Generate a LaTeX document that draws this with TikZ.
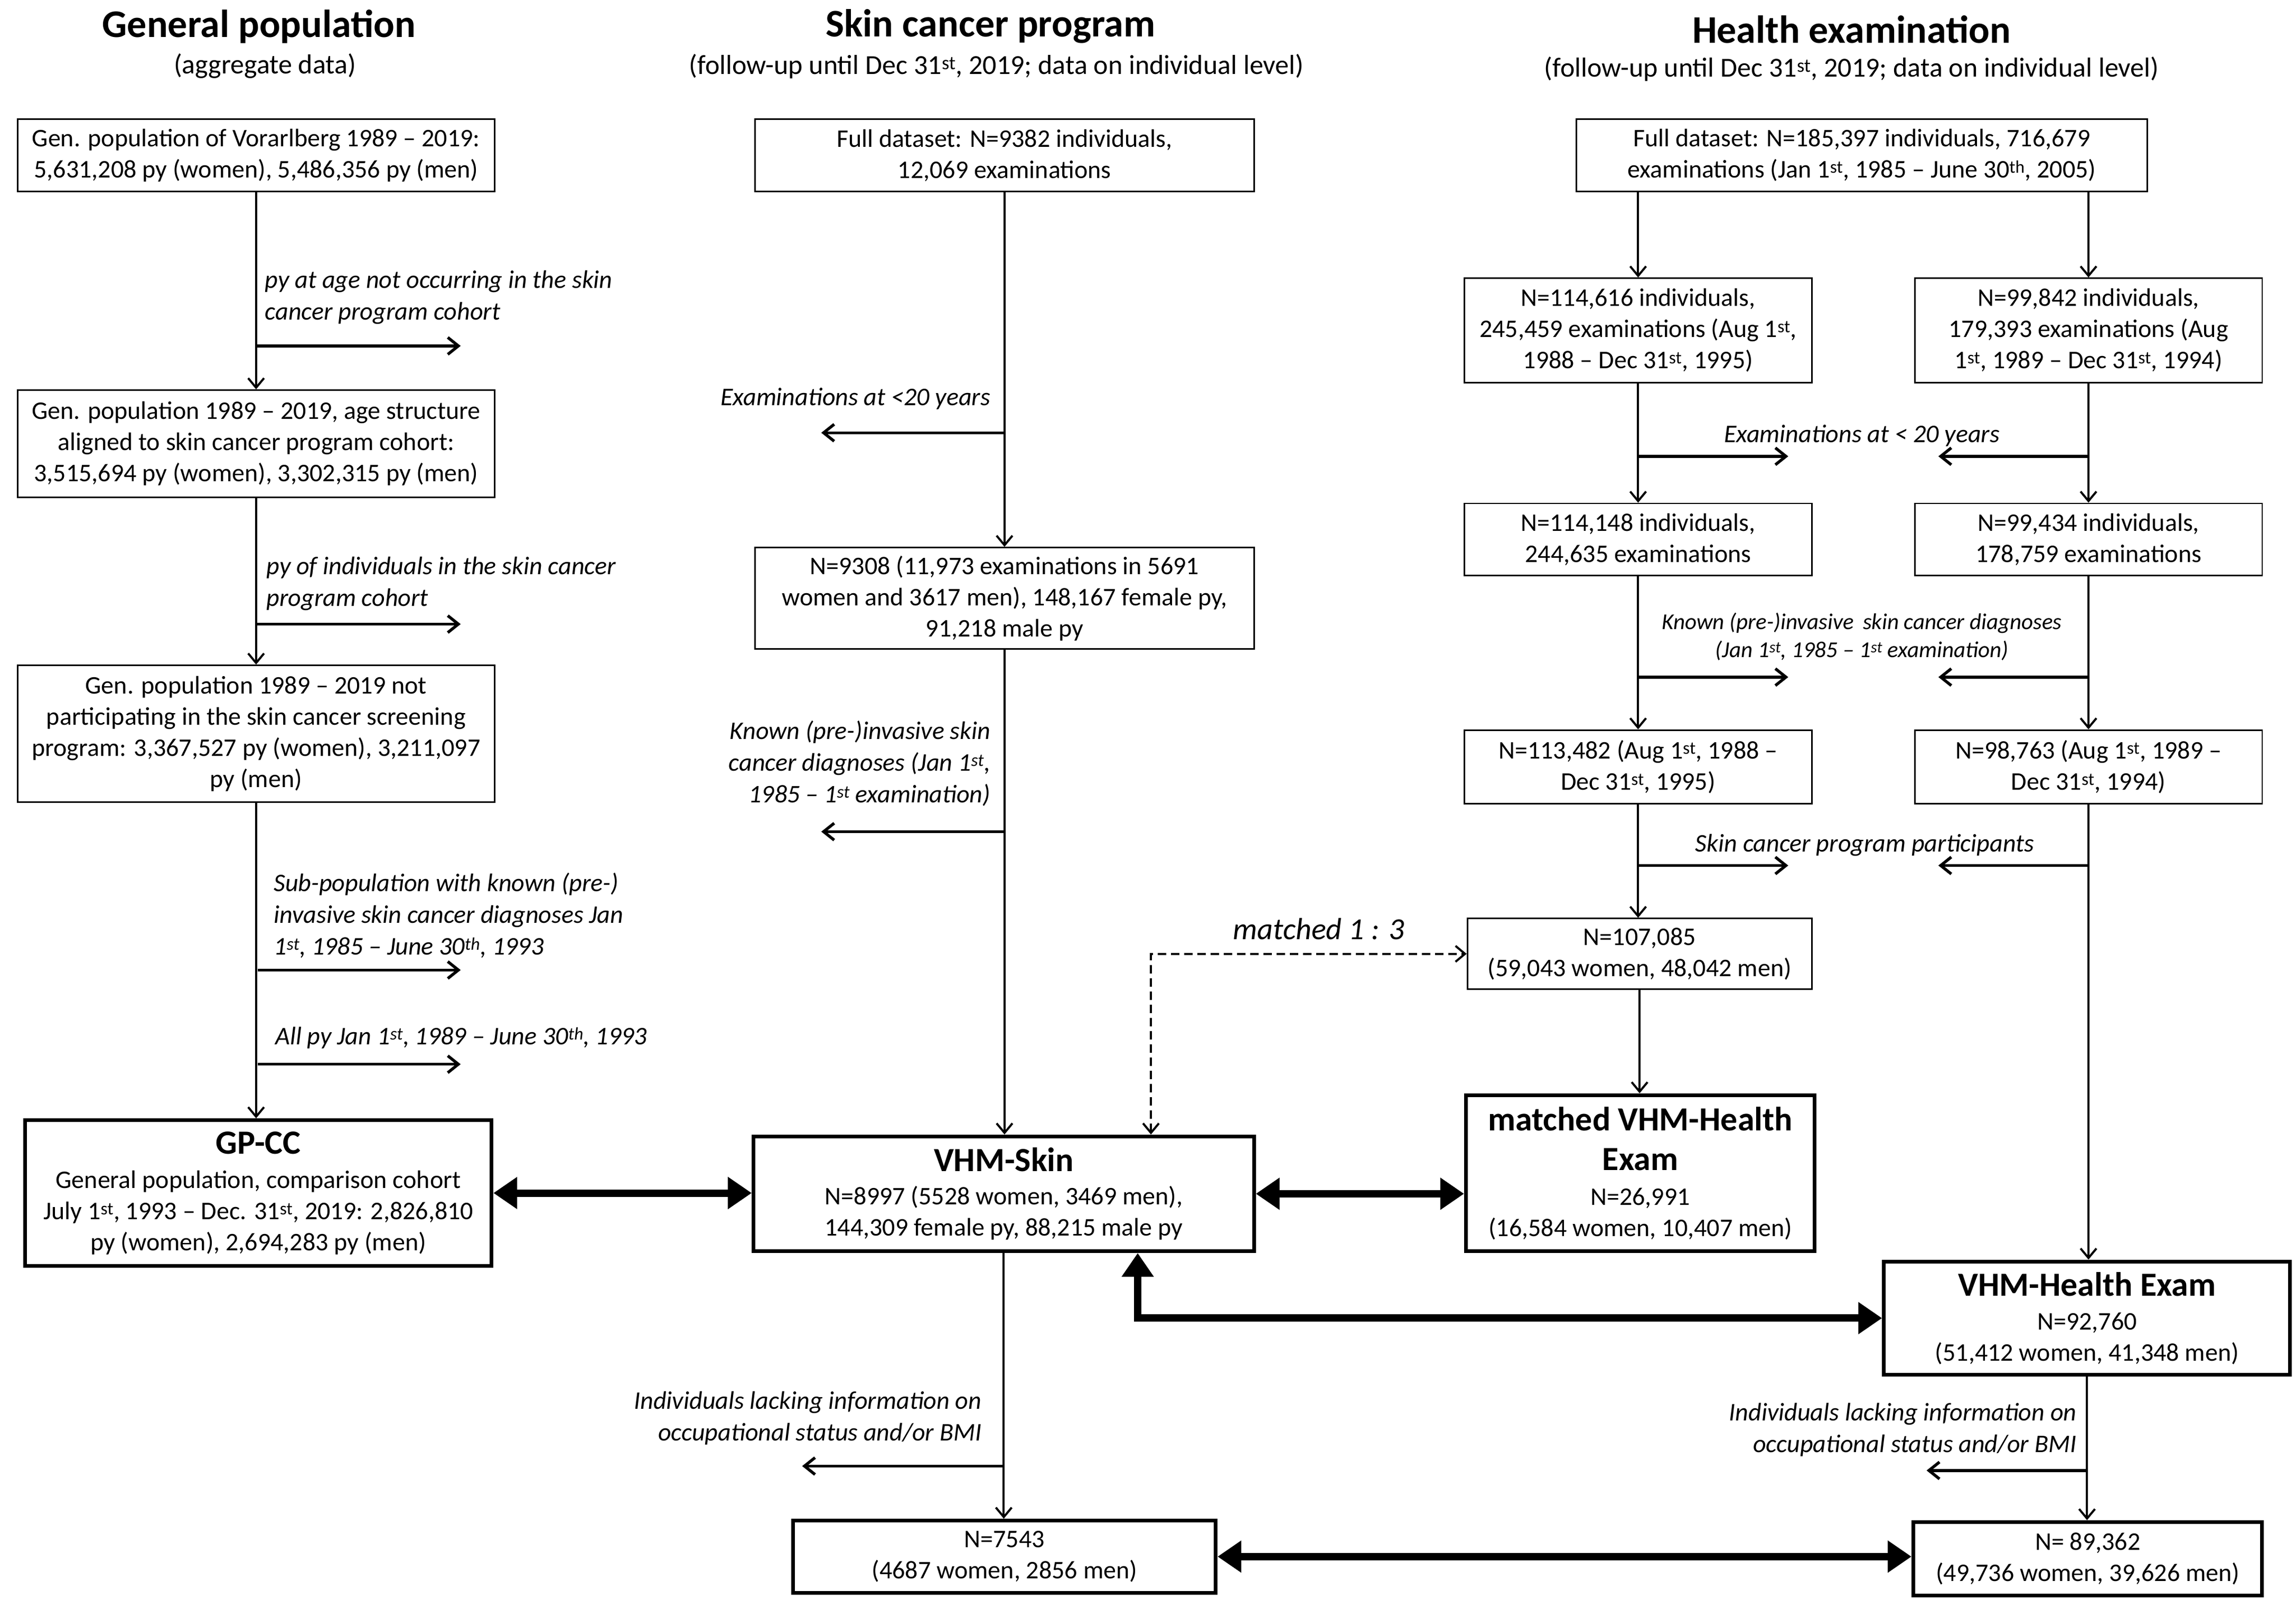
\documentclass[tikz,border=0pt]{standalone}
\usepackage{fontspec}
\setmainfont{Carlito}
\usetikzlibrary{arrows.meta,calc}
\newcommand\bodyf{\fontsize{48}{59}\selectfont}
\newcommand\labf{\itshape\fontsize{48}{60}\selectfont}
\newcommand\slabf{\itshape\fontsize{43}{53}\selectfont}
\newcommand\titf{\bfseries\fontsize{64}{75}\selectfont}
\newcommand\headf{\bfseries\fontsize{74}{80}\selectfont}
\newcommand\subf{\fontsize{52}{60}\selectfont}
\newcommand\sts{\textsuperscript{st}}
\newcommand\ths{\textsuperscript{th}}
\def\un{2.78654pt}
\begin{document}
\begin{tikzpicture}[x=2.78654pt,y=-2.78654pt,
  box/.style={draw, line width=2.8pt, inner sep=0pt, align=center, font=\bodyf},
  tbox/.style={box, line width=7pt},
  arr/.style={line width=4pt, -{Straight Barb[length=18pt,width=30pt]}},
  barr/.style={line width=5.5pt, -{Straight Barb[length=20pt,width=32pt]}},
  dasharr/.style={line width=4pt, dash pattern=on 16pt off 9pt, {Straight Barb[length=18pt,width=30pt]}-{Straight Barb[length=18pt,width=30pt]}},
  big/.style={line width=14pt, {Triangle[length=45pt,width=58pt]}-{Triangle[length=45pt,width=58pt]}},
  lab/.style={inner sep=0pt, font=\labf},
  slab/.style={inner sep=0pt, font=\slabf},
  head/.style={inner sep=0pt, font=\headf},
  sub/.style={inner sep=0pt, font=\subf}]
\useasboundingbox (0,0) rectangle (1560,1093.1);

% headers
\node[head] (h1) at (176,18) {General population};
\node[sub] (s1) at (180,45) {(aggregate data)};
\node[head] (h2) at (673,18) {Skin cancer program};
\node[sub] (s2) at (677,45) {(follow-up until Dec 31\sts, 2019; data on individual level)};
\node[head] (h3) at (1258,20) {Health examination};
\node[sub] (s3) at (1258,47) {(follow-up until Dec 31\sts, 2019; data on individual level)};

% left column
\node[box, minimum width=324*\un, minimum height=49*\un] (B1) at (174,105.5)
  {Gen. population of Vorarlberg 1989 -- 2019:\\5,631,208 py (women), 5,486,356 py (men)};
\node[box, minimum width=324*\un, minimum height=73*\un] (B2) at (174,301.5)
  {Gen. population 1989 -- 2019, age structure\\aligned to skin cancer program cohort:\\3,515,694 py (women), 3,302,315 py (men)};
\node[box, minimum width=324*\un, minimum height=93*\un] (B3) at (174,498.5)
  {Gen. population 1989 -- 2019 not\\participating in the skin cancer screening\\program: 3,367,527 py (women), 3,211,097\\py (men)};
\node[tbox, minimum width=317*\un, minimum height=99*\un] (GP) at (175.5,810.5)
  {{\titf GP-CC}\\[6pt]General population, comparison cohort\\July 1\sts, 1993 -- Dec. 31\sts, 2019: 2,826,810\\py (women), 2,694,283 py (men)};

\draw[arr] (B1.south) -- (B2.north);
\draw[arr] (B2.south) -- (B3.north);
\draw[arr] (B3.south) -- (B3.south |- GP.north);
\coordinate (lb1s) at (174,235); \coordinate (lb1e) at (313,235);
\coordinate (lb2s) at (174,424); \coordinate (lb2e) at (313,424);
\coordinate (lb3s) at (175,659); \coordinate (lb3e) at (313,659);
\coordinate (lb4s) at (175,723); \coordinate (lb4e) at (313,723);
\draw[barr] (lb1s) -- (lb1e);
\draw[barr] (lb2s) -- (lb2e);
\draw[barr] (lb3s) -- (lb3e);
\draw[barr] (lb4s) -- (lb4e);
\node[lab, anchor=west, align=left] (L1) at (180,202) {py at age not occurring in the skin\\cancer program cohort};
\node[lab, anchor=west, align=left] (L2) at (181,396.5) {py of individuals in the skin cancer\\program cohort};
\node[lab, anchor=west, align=left] (L3) at (186,622) {Sub-population with known (pre-)\\invasive skin cancer diagnoses Jan\\1\sts, 1985 -- June 30\ths, 1993};
\node[lab, anchor=west, align=left] (L4) at (187,705) {All py Jan 1\sts, 1989 -- June 30\ths, 1993};

% middle column
\node[box, minimum width=339*\un, minimum height=49*\un] (S1) at (682.5,105.5)
  {Full dataset: N=9382 individuals,\\12,069 examinations};
\node[box, minimum width=339*\un, minimum height=69*\un] (S2) at (682.5,406.5)
  {N=9308 (11,973 examinations in 5691\\women and 3617 men), 148,167 female py,\\91,218 male py};
\node[tbox, minimum width=340*\un, minimum height=78*\un] (VS) at (682,811)
  {{\titf VHM-Skin}\\[4pt]N=8997 (5528 women, 3469 men),\\144,309 female py, 88,215 male py};
\node[tbox, minimum width=287*\un, minimum height=49*\un] (M) at (682.5,1057.5)
  {N=7543\\(4687 women, 2856 men)};

\draw[arr] (S1.south) -- (S2.north);
\draw[arr] (S2.south) -- (S2.south |- VS.north);
\draw[arr] (VS.south) -- (VS.south |- M.north);
\coordinate (mb1s) at (682.5,294); \coordinate (mb1e) at (558,294);
\coordinate (mb2s) at (682.5,565); \coordinate (mb2e) at (558,565);
\coordinate (mb3s) at (682.5,996); \coordinate (mb3e) at (545,996);
\draw[barr] (mb1s) -- (mb1e);
\draw[barr] (mb2s) -- (mb2e);
\draw[barr] (mb3s) -- (mb3e);
\node[lab, anchor=east, align=right] (ML1) at (673,271) {Examinations at <20 years};
\node[lab, anchor=east, align=right] (ML2) at (673,518.5) {Known (pre-)invasive skin\\cancer diagnoses (Jan 1\sts,\\1985 -- 1\sts\ examination)};
\node[lab, anchor=east, align=right] (ML3) at (667,963.5) {Individuals lacking information on\\occupational status and/or BMI};

% right column
\node[box, minimum width=388*\un, minimum height=49*\un] (H1) at (1265,105.5)
  {Full dataset: N=185,397 individuals, 716,679\\examinations (Jan 1\sts, 1985 -- June 30\ths, 2005)};
\node[box, minimum width=236*\un, minimum height=71*\un] (H2a) at (1113,224.5)
  {N=114,616 individuals,\\245,459 examinations (Aug 1\sts,\\1988 -- Dec 31\sts, 1995)};
\node[box, minimum width=236*\un, minimum height=71*\un] (H2b) at (1419,224.5)
  {N=99,842 individuals,\\179,393 examinations (Aug\\1\sts, 1989 -- Dec 31\sts, 1994)};
\node[box, minimum width=236*\un, minimum height=49*\un] (H3a) at (1113,366.5)
  {N=114,148 individuals,\\244,635 examinations};
\node[box, minimum width=236*\un, minimum height=49*\un] (H3b) at (1419,366.5)
  {N=99,434 individuals,\\178,759 examinations};
\node[box, minimum width=236*\un, minimum height=50*\un] (H4a) at (1113,521)
  {N=113,482 (Aug 1\sts, 1988 --\\Dec 31\sts, 1995)};
\node[box, minimum width=236*\un, minimum height=50*\un] (H4b) at (1419,521)
  {N=98,763 (Aug 1\sts, 1989 --\\Dec 31\sts, 1994)};
\node[box, minimum width=234*\un, minimum height=48*\un] (H5) at (1114,648)
  {N=107,085\\(59,043 women, 48,042 men)};
\node[tbox, minimum width=237*\un, minimum height=106*\un] (MV) at (1114.5,797)
  {{\titf matched VHM-Health}\\[16pt]{\titf Exam}\\[7pt]N=26,991\\(16,584 women, 10,407 men)};
\node[tbox, minimum width=276*\un, minimum height=77*\un] (HE) at (1418,895.5)
  {{\titf VHM-Health Exam}\\[5pt]N=92,760\\(51,412 women, 41,348 men)};
\node[tbox, minimum width=237*\un, minimum height=50*\un] (BR) at (1418.5,1059)
  {N= 89,362\\(49,736 women, 39,626 men)};

\draw[arr] (H1.south -| H2a.north) -- (H2a.north);
\draw[arr] (H1.south -| H2b.north) -- (H2b.north);
\draw[arr] (H2a.south) -- (H3a.north);
\draw[arr] (H2b.south) -- (H3b.north);
\draw[arr] (H3a.south) -- (H4a.north);
\draw[arr] (H3b.south) -- (H4b.north);
\draw[arr] (H4a.south) -- (H4a.south |- H5.north);
\draw[arr] (H5.south) -- (H5.south |- MV.north);
\draw[arr] (H4b.south) -- (H4b.south |- HE.north);
\draw[arr] (HE.south) -- (HE.south |- BR.north);

\coordinate (ra1s) at (1113,310); \coordinate (ra1e) at (1215,310);
\coordinate (rb1s) at (1419,310); \coordinate (rb1e) at (1317,310);
\coordinate (ra2s) at (1113,460); \coordinate (ra2e) at (1215,460);
\coordinate (rb2s) at (1419,460); \coordinate (rb2e) at (1317,460);
\coordinate (ra3s) at (1113,588); \coordinate (ra3e) at (1215,588);
\coordinate (rb3s) at (1419,588); \coordinate (rb3e) at (1317,588);
\coordinate (rb4s) at (1418,999); \coordinate (rb4e) at (1309,999);
\draw[barr] (ra1s) -- (ra1e); \draw[barr] (rb1s) -- (rb1e);
\draw[barr] (ra2s) -- (ra2e); \draw[barr] (rb2s) -- (rb2e);
\draw[barr] (ra3s) -- (ra3e); \draw[barr] (rb3s) -- (rb3e);
\draw[barr] (rb4s) -- (rb4e);
\node[lab] (RL1) at (1265,296) {Examinations at < 20 years};
\node[slab, align=center] (RL2) at (1265,432.5) {Known (pre-)invasive\, skin cancer diagnoses\\(Jan 1\sts, 1985 -- 1\sts\ examination)};
\node[lab] (RL3) at (1267,574) {Skin cancer program participants};
\node[lab, anchor=east, align=right] (RL4) at (1411,971.5) {Individuals lacking information on\\occupational status and/or BMI};

% matching
\coordinate (dm) at (782,648);
\draw[dasharr] (VS.north -| dm) -- (dm) -- (H5.west);
\node[lab, font=\itshape\fontsize{58}{66}\selectfont] (ML) at (896,631) {matched 1 : 3};

% thick connections
\draw[big] (GP.east) -- (GP.east -| VS.west);
\draw[big] (VS.east) -- (VS.east -| MV.west);
\coordinate (vx) at (773,0);
\draw[big] (VS.south -| vx) |- (HE.west);
\draw[big] (M.east) -- (M.east -| BR.west);
\end{tikzpicture}
\end{document}
